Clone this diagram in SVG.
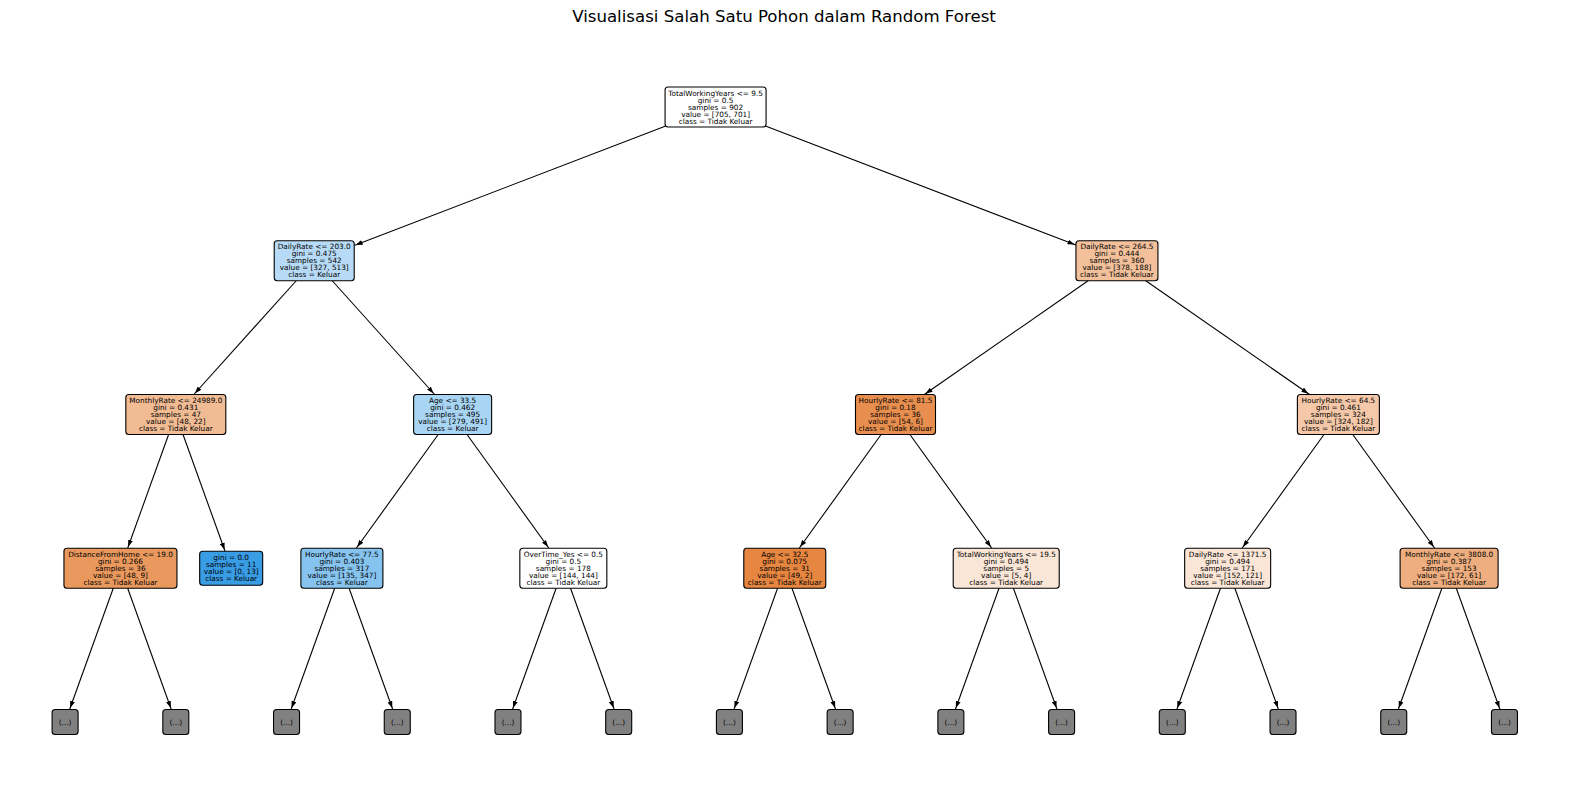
<svg xmlns="http://www.w3.org/2000/svg" width="1570" height="810" viewBox="0 0 1570 810">
<style>
.bx{stroke:#000;stroke-width:1.1}
.t{font-family:"DejaVu Sans","Liberation Sans",sans-serif;font-size:7.3px;text-anchor:middle;fill:#000}
.e{stroke:#000;stroke-width:1.1;fill:none;marker-end:url(#ah)}
.lf{fill:#808080;stroke:#000;stroke-width:1.1}
.title{font-family:"DejaVu Sans","Liberation Sans",sans-serif;font-size:16.6px;text-anchor:middle;fill:#000}
</style>
<defs>
<marker id="ah" viewBox="0 0 7 5" markerWidth="7" markerHeight="5" refX="8.5" refY="2.5" orient="auto" markerUnits="userSpaceOnUse">
<path d="M0,0 L7,2.5 L0,5 z" fill="#000"/>
</marker>
</defs>
<rect width="1570" height="810" fill="#fff"/>
<text class="title" x="784" y="22">Visualisasi Salah Satu Pohon dalam Random Forest</text>
<g id="connectors">
<line class="e" x1="665.08" y1="126.35" x2="354.23" y2="245.42"/>
<line class="e" x1="766.08" y1="126.35" x2="1075.92" y2="245.04"/>
<line class="e" x1="296.22" y1="280.75" x2="193.82" y2="394.5"/>
<line class="e" x1="332.22" y1="280.75" x2="434.62" y2="394.5"/>
<line class="e" x1="1088.13" y1="280.75" x2="924.31" y2="394.5"/>
<line class="e" x1="1145.75" y1="280.75" x2="1309.57" y2="394.5"/>
<line class="e" x1="168.62" y1="434.5" x2="127.66" y2="548.25"/>
<line class="e" x1="183.02" y1="434.5" x2="225.06" y2="551.25"/>
<line class="e" x1="438.22" y1="434.5" x2="356.3" y2="548.25"/>
<line class="e" x1="467.02" y1="434.5" x2="548.94" y2="548.25"/>
<line class="e" x1="881.1" y1="434.5" x2="799.18" y2="548.25"/>
<line class="e" x1="909.9" y1="434.5" x2="991.82" y2="548.25"/>
<line class="e" x1="1323.98" y1="434.5" x2="1242.06" y2="548.25"/>
<line class="e" x1="1352.78" y1="434.5" x2="1434.7" y2="548.25"/>
<line class="e" x1="113.26" y1="588.25" x2="69.6" y2="709.5"/>
<line class="e" x1="127.66" y1="588.25" x2="171.32" y2="709.5"/>
<line class="e" x1="334.7" y1="588.25" x2="291.04" y2="709.5"/>
<line class="e" x1="349.1" y1="588.25" x2="392.76" y2="709.5"/>
<line class="e" x1="556.14" y1="588.25" x2="512.48" y2="709.5"/>
<line class="e" x1="570.54" y1="588.25" x2="614.2" y2="709.5"/>
<line class="e" x1="777.58" y1="588.25" x2="733.92" y2="709.5"/>
<line class="e" x1="791.98" y1="588.25" x2="835.64" y2="709.5"/>
<line class="e" x1="999.02" y1="588.25" x2="955.36" y2="709.5"/>
<line class="e" x1="1013.42" y1="588.25" x2="1057.08" y2="709.5"/>
<line class="e" x1="1220.46" y1="588.25" x2="1176.8" y2="709.5"/>
<line class="e" x1="1234.86" y1="588.25" x2="1278.52" y2="709.5"/>
<line class="e" x1="1441.9" y1="588.25" x2="1398.24" y2="709.5"/>
<line class="e" x1="1456.3" y1="588.25" x2="1500" y2="709.5"/>
</g>
<g id="n_root">
<rect class="bx" x="665.08" y="87" width="101" height="40" rx="3" fill="#ffffff"/>
<text class="t" x="715.58" y="95.5">TotalWorkingYears &lt;= 9.5<tspan x="715.58" dy="7">gini = 0.5</tspan><tspan x="715.58" dy="7">samples = 902</tspan><tspan x="715.58" dy="7">value = [705, 701]</tspan><tspan x="715.58" dy="7">class = Tidak Keluar</tspan></text>
</g>
<g id="n_A">
<rect class="bx" x="274.22" y="240.75" width="80" height="40" rx="3" fill="#b7dbf6"/>
<text class="t" x="314.22" y="249.25">DailyRate &lt;= 203.0<tspan x="314.22" dy="7">gini = 0.475</tspan><tspan x="314.22" dy="7">samples = 542</tspan><tspan x="314.22" dy="7">value = [327, 513]</tspan><tspan x="314.22" dy="7">class = Keluar</tspan></text>
</g>
<g id="n_B">
<rect class="bx" x="1075.94" y="240.75" width="82" height="40" rx="3" fill="#f2c09b"/>
<text class="t" x="1116.94" y="249.25">DailyRate &lt;= 264.5<tspan x="1116.94" dy="7">gini = 0.444</tspan><tspan x="1116.94" dy="7">samples = 360</tspan><tspan x="1116.94" dy="7">value = [378, 188]</tspan><tspan x="1116.94" dy="7">class = Tidak Keluar</tspan></text>
</g>
<g id="n_A1">
<rect class="bx" x="125.82" y="394.5" width="100" height="40" rx="3" fill="#f1bb94"/>
<text class="t" x="175.82" y="403">MonthlyRate &lt;= 24989.0<tspan x="175.82" dy="7">gini = 0.431</tspan><tspan x="175.82" dy="7">samples = 47</tspan><tspan x="175.82" dy="7">value = [48, 22]</tspan><tspan x="175.82" dy="7">class = Tidak Keluar</tspan></text>
</g>
<g id="n_A2">
<rect class="bx" x="413.62" y="394.5" width="78" height="40" rx="3" fill="#a9d5f4"/>
<text class="t" x="452.62" y="403">Age &lt;= 33.5<tspan x="452.62" dy="7">gini = 0.462</tspan><tspan x="452.62" dy="7">samples = 495</tspan><tspan x="452.62" dy="7">value = [279, 491]</tspan><tspan x="452.62" dy="7">class = Keluar</tspan></text>
</g>
<g id="n_B1">
<rect class="bx" x="855.5" y="394.5" width="80" height="40" rx="3" fill="#e88f4f"/>
<text class="t" x="895.5" y="403">HourlyRate &lt;= 81.5<tspan x="895.5" dy="7">gini = 0.18</tspan><tspan x="895.5" dy="7">samples = 36</tspan><tspan x="895.5" dy="7">value = [54, 6]</tspan><tspan x="895.5" dy="7">class = Tidak Keluar</tspan></text>
</g>
<g id="n_B2">
<rect class="bx" x="1297.38" y="394.5" width="82" height="40" rx="3" fill="#f4c8a8"/>
<text class="t" x="1338.38" y="403">HourlyRate &lt;= 64.5<tspan x="1338.38" dy="7">gini = 0.461</tspan><tspan x="1338.38" dy="7">samples = 324</tspan><tspan x="1338.38" dy="7">value = [324, 182]</tspan><tspan x="1338.38" dy="7">class = Tidak Keluar</tspan></text>
</g>
<g id="n_a">
<rect class="bx" x="63.96" y="548.25" width="113" height="40" rx="3" fill="#ea995e"/>
<text class="t" x="120.46" y="556.75">DistanceFromHome &lt;= 19.0<tspan x="120.46" dy="7">gini = 0.266</tspan><tspan x="120.46" dy="7">samples = 36</tspan><tspan x="120.46" dy="7">value = [48, 9]</tspan><tspan x="120.46" dy="7">class = Tidak Keluar</tspan></text>
</g>
<g id="n_b">
<rect class="bx" x="199.68" y="551.25" width="63" height="34" rx="3" fill="#399de5"/>
<text class="t" x="231.18" y="560.25">gini = 0.0<tspan x="231.18" dy="7">samples = 11</tspan><tspan x="231.18" dy="7">value = [0, 13]</tspan><tspan x="231.18" dy="7">class = Keluar</tspan></text>
</g>
<g id="n_c">
<rect class="bx" x="300.9" y="548.25" width="82" height="40" rx="3" fill="#86c3ef"/>
<text class="t" x="341.9" y="556.75">HourlyRate &lt;= 77.5<tspan x="341.9" dy="7">gini = 0.403</tspan><tspan x="341.9" dy="7">samples = 317</tspan><tspan x="341.9" dy="7">value = [135, 347]</tspan><tspan x="341.9" dy="7">class = Keluar</tspan></text>
</g>
<g id="n_d">
<rect class="bx" x="519.84" y="548.25" width="87" height="40" rx="3" fill="#ffffff"/>
<text class="t" x="563.34" y="556.75">OverTime_Yes &lt;= 0.5<tspan x="563.34" dy="7">gini = 0.5</tspan><tspan x="563.34" dy="7">samples = 178</tspan><tspan x="563.34" dy="7">value = [144, 144]</tspan><tspan x="563.34" dy="7">class = Tidak Keluar</tspan></text>
</g>
<g id="n_e">
<rect class="bx" x="743.78" y="548.25" width="82" height="40" rx="3" fill="#e68641"/>
<text class="t" x="784.78" y="556.75">Age &lt;= 32.5<tspan x="784.78" dy="7">gini = 0.075</tspan><tspan x="784.78" dy="7">samples = 31</tspan><tspan x="784.78" dy="7">value = [49, 2]</tspan><tspan x="784.78" dy="7">class = Tidak Keluar</tspan></text>
</g>
<g id="n_f">
<rect class="bx" x="953.22" y="548.25" width="106" height="40" rx="3" fill="#fae6d7"/>
<text class="t" x="1006.22" y="556.75">TotalWorkingYears &lt;= 19.5<tspan x="1006.22" dy="7">gini = 0.494</tspan><tspan x="1006.22" dy="7">samples = 5</tspan><tspan x="1006.22" dy="7">value = [5, 4]</tspan><tspan x="1006.22" dy="7">class = Tidak Keluar</tspan></text>
</g>
<g id="n_g">
<rect class="bx" x="1184.66" y="548.25" width="86" height="40" rx="3" fill="#fae5d7"/>
<text class="t" x="1227.66" y="556.75">DailyRate &lt;= 1371.5<tspan x="1227.66" dy="7">gini = 0.494</tspan><tspan x="1227.66" dy="7">samples = 171</tspan><tspan x="1227.66" dy="7">value = [152, 121]</tspan><tspan x="1227.66" dy="7">class = Tidak Keluar</tspan></text>
</g>
<g id="n_h">
<rect class="bx" x="1400.1" y="548.25" width="98" height="40" rx="3" fill="#eeae7f"/>
<text class="t" x="1449.1" y="556.75">MonthlyRate &lt;= 3808.0<tspan x="1449.1" dy="7">gini = 0.387</tspan><tspan x="1449.1" dy="7">samples = 153</tspan><tspan x="1449.1" dy="7">value = [172, 61]</tspan><tspan x="1449.1" dy="7">class = Tidak Keluar</tspan></text>
</g>
<g id="leaves">
<g id="l0"><rect class="lf" x="52.1" y="709.5" width="26" height="25" rx="3"/><text class="t" x="65.1" y="724.5">(...)</text></g>
<g id="l1"><rect class="lf" x="162.82" y="709.5" width="26" height="25" rx="3"/><text class="t" x="175.82" y="724.5">(...)</text></g>
<g id="l2"><rect class="lf" x="273.54" y="709.5" width="26" height="25" rx="3"/><text class="t" x="286.54" y="724.5">(...)</text></g>
<g id="l3"><rect class="lf" x="384.26" y="709.5" width="26" height="25" rx="3"/><text class="t" x="397.26" y="724.5">(...)</text></g>
<g id="l4"><rect class="lf" x="494.98" y="709.5" width="26" height="25" rx="3"/><text class="t" x="507.98" y="724.5">(...)</text></g>
<g id="l5"><rect class="lf" x="605.7" y="709.5" width="26" height="25" rx="3"/><text class="t" x="618.7" y="724.5">(...)</text></g>
<g id="l6"><rect class="lf" x="716.42" y="709.5" width="26" height="25" rx="3"/><text class="t" x="729.42" y="724.5">(...)</text></g>
<g id="l7"><rect class="lf" x="827.14" y="709.5" width="26" height="25" rx="3"/><text class="t" x="840.14" y="724.5">(...)</text></g>
<g id="l8"><rect class="lf" x="937.86" y="709.5" width="26" height="25" rx="3"/><text class="t" x="950.86" y="724.5">(...)</text></g>
<g id="l9"><rect class="lf" x="1048.58" y="709.5" width="26" height="25" rx="3"/><text class="t" x="1061.58" y="724.5">(...)</text></g>
<g id="l10"><rect class="lf" x="1159.3" y="709.5" width="26" height="25" rx="3"/><text class="t" x="1172.3" y="724.5">(...)</text></g>
<g id="l11"><rect class="lf" x="1270.02" y="709.5" width="26" height="25" rx="3"/><text class="t" x="1283.02" y="724.5">(...)</text></g>
<g id="l12"><rect class="lf" x="1380.74" y="709.5" width="26" height="25" rx="3"/><text class="t" x="1393.74" y="724.5">(...)</text></g>
<g id="l13"><rect class="lf" x="1491.46" y="709.5" width="26" height="25" rx="3"/><text class="t" x="1504.46" y="724.5">(...)</text></g>
</g>
</svg>
